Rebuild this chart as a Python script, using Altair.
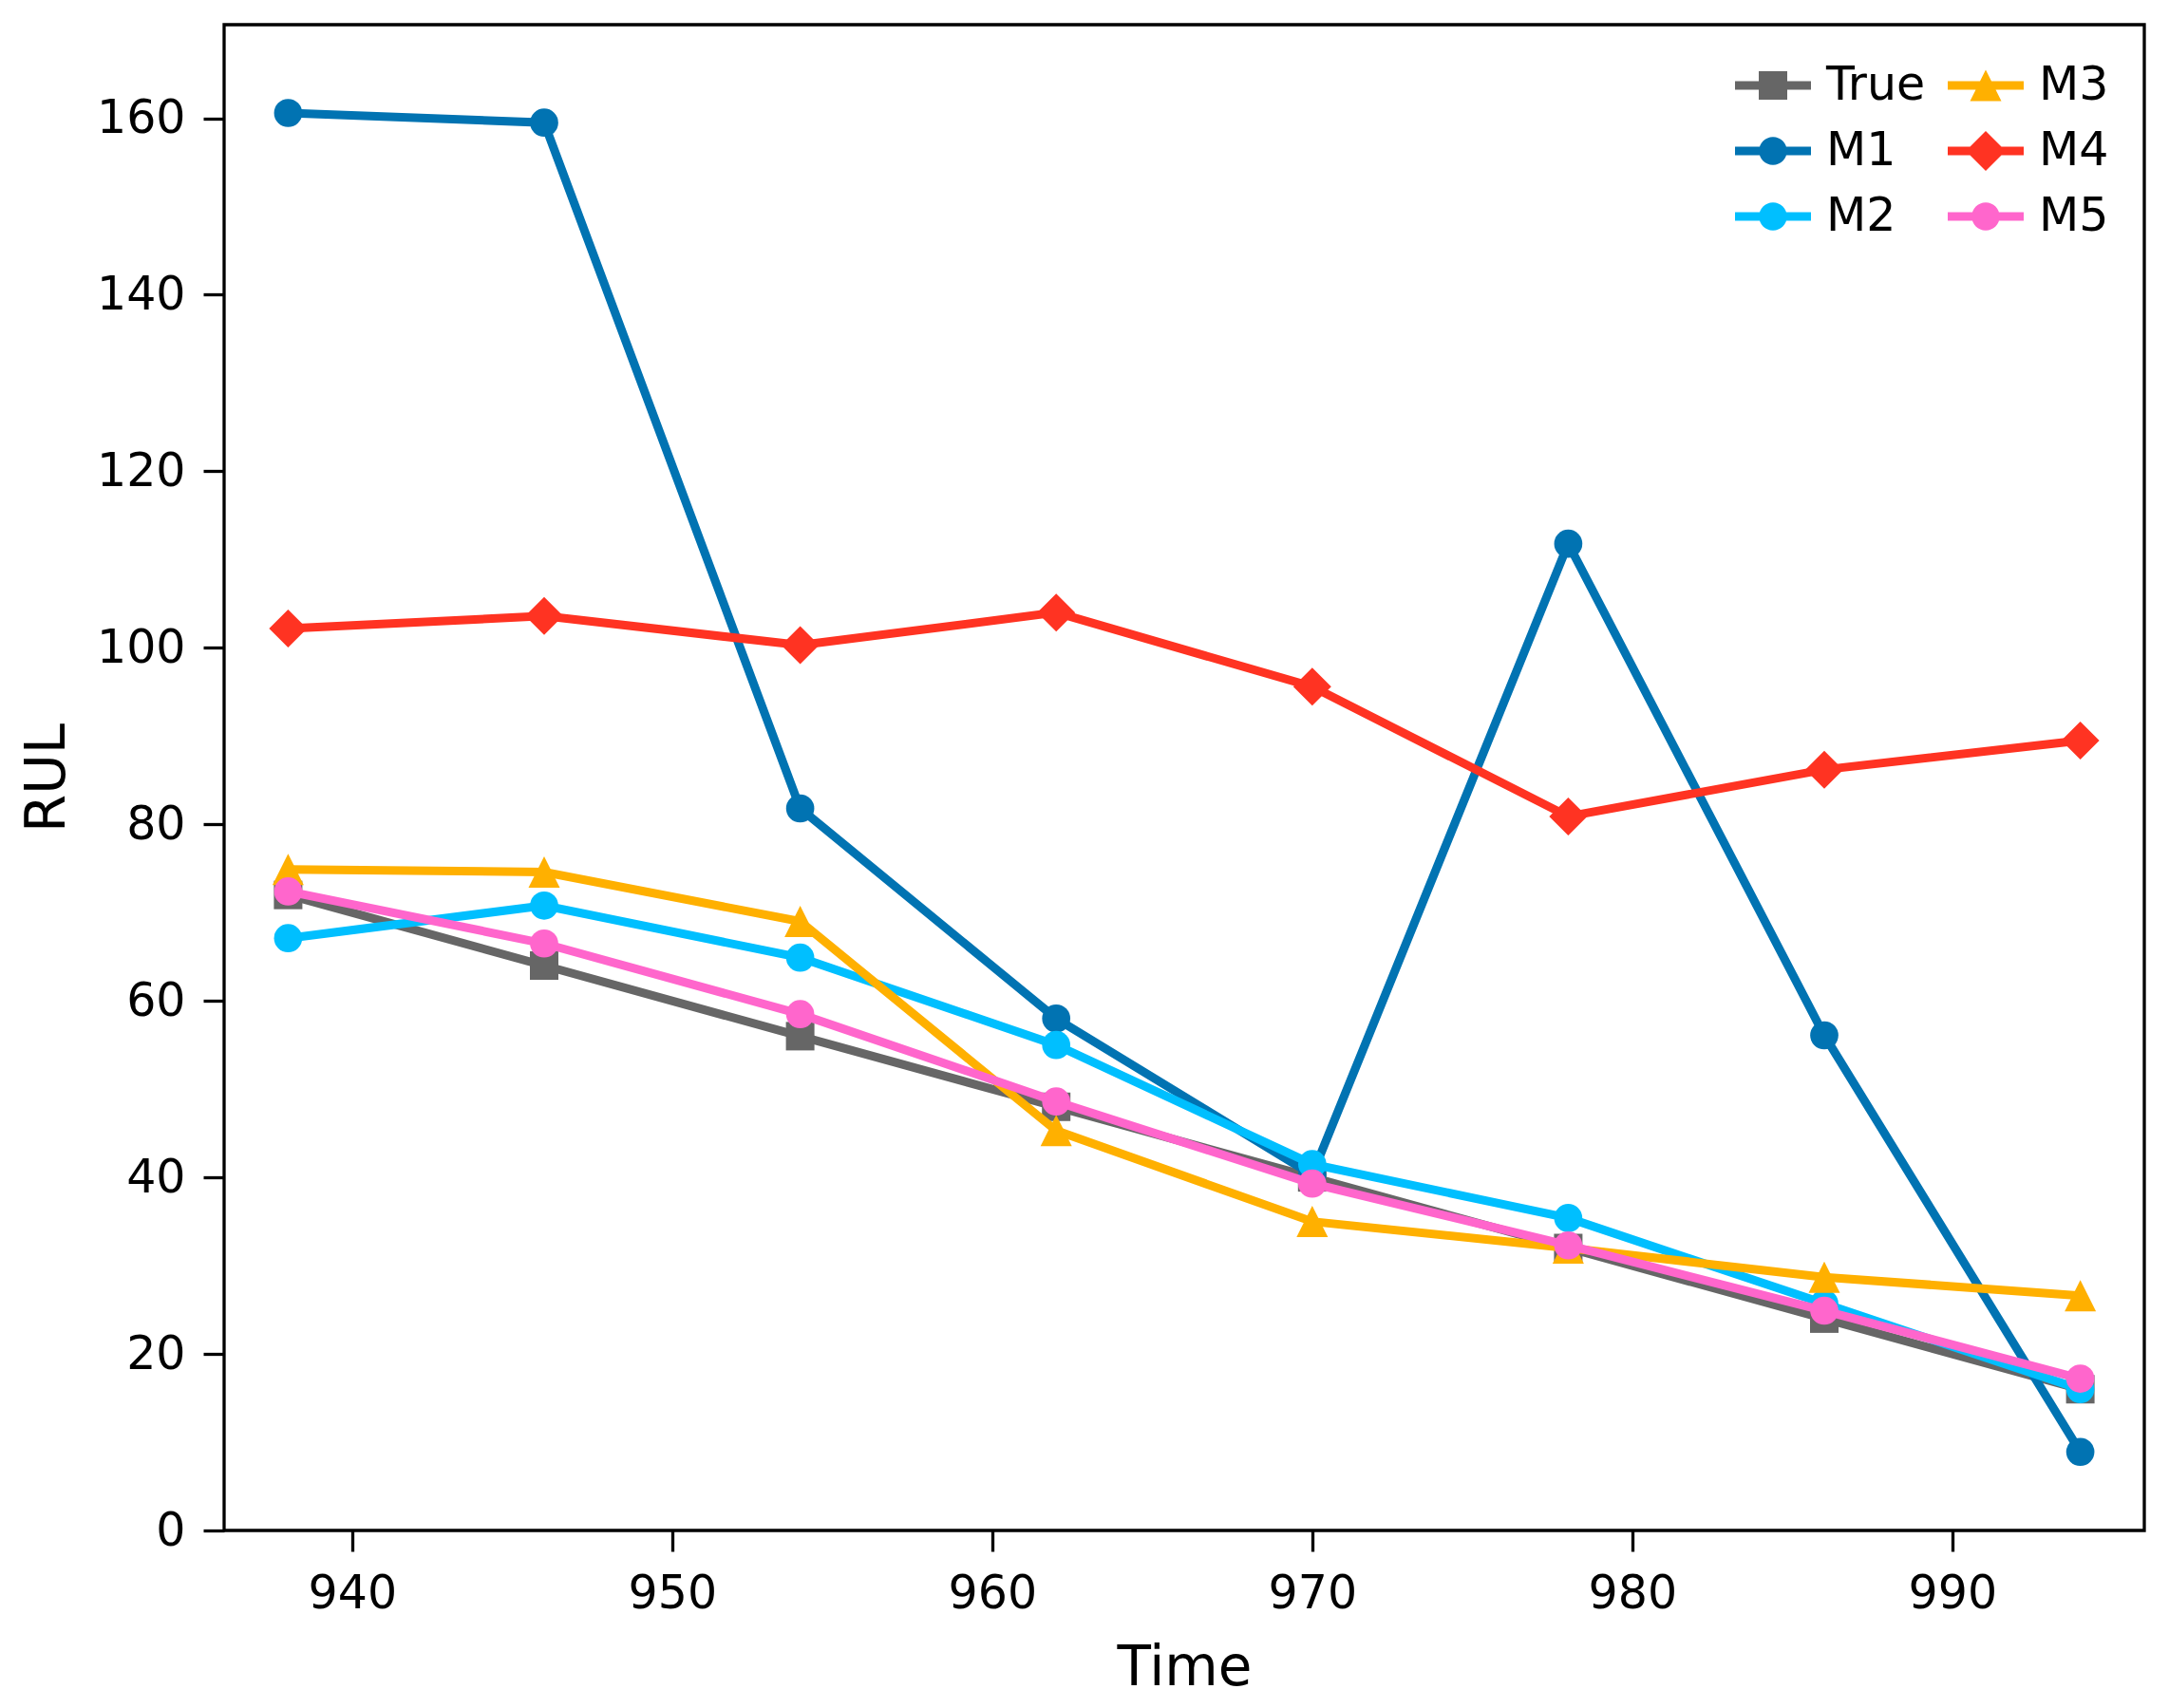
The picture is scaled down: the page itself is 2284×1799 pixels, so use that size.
import altair as alt
import pandas as pd

# ---- data ----
time = [938, 946, 954, 962, 970, 978, 986, 994]
true_rul = [72, 64, 56, 48, 40, 32, 24, 16]
m1 = [160.6, 159.5, 81.8, 58.0, 40.3, 111.8, 56.1, 8.9]
m2 = [67.1, 70.8, 64.9, 55.0, 41.5, 35.4, 25.7, 16.0]
m3 = [74.9, 74.6, 69.0, 45.3, 35.0, 32.0, 28.7, 26.6]
m4 = [102.2, 103.6, 100.3, 104.0, 95.6, 80.9, 86.2, 89.5]
m5 = [72.4, 66.5, 58.5, 48.6, 39.3, 32.3, 24.9, 17.2]

series_names = ["True", "M1", "M2", "M3", "M4", "M5"]
series_values = [true_rul, m1, m2, m3, m4, m5]

x_ticks = [940, 950, 960, 970, 980, 990]
y_ticks = [0, 20, 40, 60, 80, 100, 120, 140, 160]

# ---- styles ----
colors = {"True": "#666666", "M1": "#0173B2", "M2": "#00BFFF",
          "M3": "#FFB000", "M4": "#FF3322", "M5": "#FF66CC"}
tri_path = "M0,-1L1,1L-1,1Z"
marker_shape = {"True": "square", "M1": "circle", "M2": "circle",
                "M3": tri_path, "M4": "diamond", "M5": "circle"}
marker_size = {"True": 900, "M1": 880, "M2": 880, "M3": 1089, "M4": 1600, "M5": 880}

line_rect = "M-1.333,-0.15H1.333V0.15H-1.333Z"
circ = "M-0.49,0A0.49,0.49 0 1,1 0.49,0A0.49,0.49 0 1,1 -0.49,0Z"
legend_marker = {
    "True": "M-0.5,-0.5H0.5V0.5H-0.5Z",
    "M1": circ,
    "M2": circ,
    "M3": "M0,-0.55L0.55,0.55L-0.55,0.55Z",
    "M4": "M0,-0.7L0.7,0L0,0.7L-0.7,0Z",
    "M5": circ,
}

FONT = "DejaVu Sans"

x_enc = alt.X("Time:Q", scale=alt.Scale(domain=[936, 996], nice=False, zero=False),
              axis=alt.Axis(title="Time", values=x_ticks, format="d"))
y_enc = alt.Y("RUL:Q", scale=alt.Scale(domain=[0, 170.6], nice=False),
              axis=alt.Axis(title="RUL", values=y_ticks, format="d"))

layers = []
for name, vals in zip(series_names, series_values):
    df = pd.DataFrame({"Time": time, "RUL": vals})
    base = alt.Chart(df)
    layers.append(base.mark_line(color=colors[name], strokeWidth=9).encode(x=x_enc, y=y_enc))
    layers.append(base.mark_point(filled=True, opacity=1, color=colors[name],
                                  shape=marker_shape[name], size=marker_size[name],
                                  strokeWidth=0).encode(x=x_enc, y=y_enc))

# legend layer (Vega fills the 2 columns column-major)
legend_df = pd.DataFrame({"model": series_names})
legend_def = alt.Legend(title=None, columns=2, orient="none", legendX=1601, legendY=34,
                        padding=0, rowPadding=14, columnPadding=23, labelOffset=26,
                        symbolSize=3600, symbolStrokeWidth=0, symbolOpacity=1,
                        labelFontSize=49, labelFont=FONT, labelColor="black",
                        labelBaseline="middle")
legend_layer = alt.Chart(legend_df).mark_point(filled=True, opacity=1).encode(
    color=alt.Color("model:N", scale=alt.Scale(domain=series_names,
                                                range=[colors[n] for n in series_names]),
                    legend=legend_def),
    shape=alt.Shape("model:N", scale=alt.Scale(domain=series_names,
                                                range=[line_rect + legend_marker[n] for n in series_names]),
                    legend=legend_def),
).transform_filter("false")

chart = alt.layer(*layers, legend_layer).properties(
    width=2022, height=1586,
    padding={"left": 236, "top": 26, "right": 26, "bottom": 187},
    autosize=alt.AutoSizeParams(type="none"),
).configure_view(
    stroke="black", strokeWidth=3.3
).configure_axis(
    grid=False, domain=False, tickSize=22, tickWidth=3.3, tickColor="black",
    labelFont=FONT, labelFontSize=49, labelColor="black",
    titleFont=FONT, titleFontSize=58, titleFontWeight="normal", titleColor="black",
).configure_axisX(
    labelPadding=20, titlePadding=25
).configure_axisY(
    labelPadding=19, titlePadding=22
)

chart.save("out.html", embed_options={"renderer": "svg", "actions": False})
